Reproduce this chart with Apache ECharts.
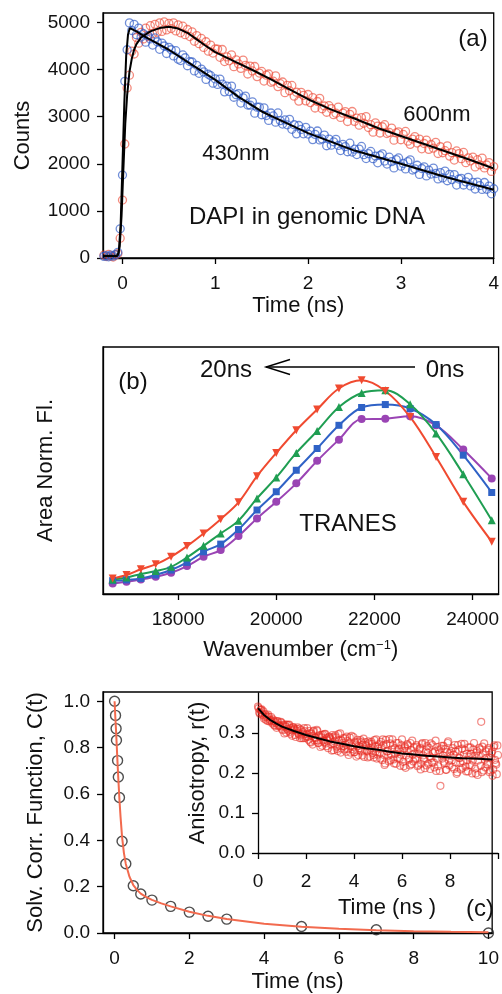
<!DOCTYPE html>
<html>
<head>
<meta charset="utf-8">
<script src="https://cdn.jsdelivr.net/npm/echarts/dist/echarts.min.js"></script>
<style>
  html, body { margin: 0; padding: 0; background: #fff; }
  #main { width: 502px; height: 994px; }
</style>
</head>
<body>
<div id="main"></div>
<script>
// (a) DAPI decays, channel width 25 ps starting at -0.2 ns
const chanStartA = -0.2;
const chanWidthA = 0.025;
const blue430 = [
  35, 50, 25, 60, 40, 70, 120, 620, 1760, 3750,
  4420, 4990, 4830, 4960, 4740, 4880, 4690, 4760, 4580, 4720,
  4650, 4520, 4670, 4590, 4430, 4560, 4500, 4340, 4470, 4420,
  4290, 4400, 4220, 4190, 4310, 4250, 4080, 4170, 4160, 3970,
  4090, 3920, 4010, 3950, 3790, 3900, 3870, 3710, 3800,
  3684, 3798, 3692, 3526, 3650, 3534, 3648, 3412, 3466, 3490,
  3289, 3398, 3437, 3246, 3245, 3314, 3073, 3202, 3201, 3040,
  3187, 3024, 2921, 3078, 3015, 2882, 3079, 2916, 2843, 2930,
  2827, 2944, 2731, 2828, 2635, 2812, 2729, 2636, 2773, 2630,
  2691, 2513, 2624, 2696, 2507, 2529, 2610, 2382, 2523, 2395, 2466,
  2518, 2389, 2281, 2412, 2364, 2255, 2437, 2248, 2310,
  2196, 2312, 2368, 2194, 2110, 2216, 2262, 2108, 2164, 2020,
  2176, 2212, 2058, 1994, 2140, 2046, 1912, 2088, 2124, 1950,
  2006, 1891, 2047, 2082, 1868, 1893, 1969, 1774, 1900, 1935,
  1741, 1866, 1782, 1907, 1793, 1678, 1814, 1699, 1845, 1640,
  1777, 1664, 1771, 1548, 1675, 1692, 1549, 1616, 1713, 1530,
  1607, 1464, 1611, 1538, 1455, 1602, 1459, 1526, 1363, 1470
];
const red600 = [
  60, 30, 75, 40, 20, 65, 90, 420, 1230, 2420,
  3610, 3880, 4390, 4330, 4680, 4560, 4790, 4650, 4880, 4700,
  4930, 4760, 4960, 4790, 4990, 4810, 5010, 4840, 4980, 4870,
  4990, 4820, 4950, 4780, 4920, 4740, 4850, 4700, 4800, 4600,
  4720, 4550, 4660, 4470, 4590, 4390, 4520, 4350, 4440,
  4435, 4260, 4425, 4170, 4268, 4185, 4313, 4060, 4205, 4120,
  4025, 4200, 4088, 3905, 4073, 3970, 4065, 3850, 3925, 3960,
  3755, 3880, 3905, 3730, 3753, 3865, 3638, 3700, 3735, 3510,
  3665, 3550, 3663, 3435, 3518, 3330, 3515, 3450, 3335, 3470,
  3298, 3406, 3184, 3322, 3390, 3168, 3226, 3094, 3232, 3170, 3041,
  3072, 3203, 2984, 3075, 3106, 2897, 3048, 3109, 2900,
  2970, 2820, 2980, 2860, 3000, 2770, 2830, 2670, 2870, 2800,
  2653, 2786, 2829, 2642, 2665, 2758, 2501, 2654, 2677, 2510,
  2623, 2686, 2479, 2412, 2525, 2578, 2441, 2524, 2317, 2430,
  2503, 2306, 2409, 2332, 2455, 2218, 2361, 2234, 2277, 2380,
  2163, 2236, 2079, 2272, 2215, 2108, 2241, 2024, 2127, 2060,
  2142, 1934, 2086, 1978, 2120, 1912, 1974, 2026, 1838, 1940
];
// fitted curves [time ns, counts]
const fit430 = [
  [-0.21, 40], [-0.06, 40], [-0.04, 120], [-0.02, 700], [0, 2000], [0.02, 3300],
  [0.04, 4300], [0.06, 4750], [0.08, 4880], [0.1, 4880], [0.15, 4810], [0.25, 4690],
  [0.35, 4580], [0.5, 4420], [0.75, 4100], [1, 3780], [1.25, 3420], [1.5, 3110],
  [1.75, 2880], [2, 2650], [2.5, 2280], [3, 2000], [3.5, 1710], [4, 1450]
];
const fit600 = [
  [-0.21, 50], [-0.05, 55], [-0.03, 250], [-0.01, 900], [0.01, 1900], [0.03, 2850],
  [0.05, 3450], [0.075, 3950], [0.1, 4230], [0.125, 4420], [0.15, 4540], [0.2, 4680],
  [0.3, 4810], [0.4, 4880], [0.5, 4910], [0.6, 4870], [0.7, 4780], [0.8, 4640],
  [0.9, 4500], [1, 4370], [1.2, 4180], [1.4, 3990], [1.6, 3790], [1.8, 3580],
  [2, 3370], [2.25, 3150], [2.5, 2960], [2.75, 2760], [3, 2590], [3.25, 2420],
  [3.5, 2250], [3.75, 2080], [4, 1900]
];

// (b) TRANES, wavenumbers of 600..410 nm
const wavenumbers = [
  16667, 16949, 17241, 17544, 17857, 18182, 18519, 18868, 19231, 19608,
  20000, 20408, 20833, 21277, 21739, 22222, 22727, 23256, 23810, 24390
];
const tranesRed = [
  0.063, 0.077, 0.100, 0.120, 0.151, 0.194, 0.245, 0.303, 0.371, 0.477,
  0.571, 0.663, 0.747, 0.832, 0.865, 0.822, 0.717, 0.555, 0.373, 0.212
];
const tranesGreen = [
  0.059, 0.067, 0.081, 0.093, 0.110, 0.148, 0.195, 0.245, 0.297, 0.387,
  0.472, 0.571, 0.660, 0.757, 0.814, 0.825, 0.768, 0.650, 0.485, 0.299
];
const tranesBlue = [
  0.054, 0.057, 0.063, 0.077, 0.097, 0.128, 0.171, 0.202, 0.261, 0.340,
  0.414, 0.501, 0.589, 0.683, 0.755, 0.767, 0.751, 0.686, 0.562, 0.411
];
const tranesPurple = [
  0.043, 0.050, 0.059, 0.070, 0.086, 0.113, 0.151, 0.178, 0.235, 0.306,
  0.373, 0.448, 0.539, 0.625, 0.708, 0.710, 0.720, 0.683, 0.585, 0.468
];

// (c) solvation correlation function
const ctTime = [0, 0.025, 0.04, 0.05, 0.08, 0.1, 0.13, 0.2, 0.3, 0.5, 0.7, 1, 1.5, 2, 2.5, 3, 5, 7, 10];
const ctValue = [1.0, 0.939, 0.882, 0.832, 0.744, 0.673, 0.585, 0.396, 0.299, 0.204, 0.168, 0.142, 0.115, 0.090, 0.072, 0.060, 0.028, 0.014, 0.0];
const ctFit = [
  [0, 1.0], [0.02, 0.93], [0.04, 0.87], [0.06, 0.8], [0.08, 0.73], [0.1, 0.665],
  [0.13, 0.575], [0.16, 0.5], [0.2, 0.415], [0.25, 0.345], [0.3, 0.298], [0.4, 0.242],
  [0.5, 0.207], [0.6, 0.186], [0.7, 0.17], [0.85, 0.155], [1, 0.143], [1.25, 0.128],
  [1.5, 0.115], [2, 0.092], [2.5, 0.074], [3, 0.06], [4, 0.04], [5, 0.027],
  [6, 0.018], [7, 0.012], [8, 0.008], [9, 0.005], [10, 0.003]
];

// inset: anisotropy, two interleaved channel sets of 50 ps
const chanWidthR = 0.05;
const anisotropy = [
  0.366, 0.352, 0.357, 0.359, 0.345, 0.336, 0.347, 0.340, 0.330, 0.341,
  0.331, 0.340, 0.324, 0.330, 0.318, 0.325, 0.329, 0.317, 0.318, 0.328,
  0.310, 0.321, 0.299, 0.316, 0.321, 0.306, 0.321, 0.298, 0.307, 0.314,
  0.311, 0.295, 0.306, 0.314, 0.297, 0.287, 0.307, 0.298, 0.287, 0.305,
  0.292, 0.312, 0.283, 0.299, 0.276, 0.293, 0.304, 0.281, 0.287, 0.308,
  0.275, 0.294, 0.265, 0.289, 0.296, 0.277, 0.298, 0.267, 0.281, 0.290,
  0.287, 0.271, 0.295, 0.257, 0.279, 0.289, 0.260, 0.297, 0.269, 0.251,
  0.281, 0.287, 0.259, 0.271, 0.291, 0.260, 0.274, 0.251, 0.293, 0.265,
  0.252, 0.276, 0.241, 0.283, 0.268, 0.257, 0.277, 0.244, 0.286, 0.258,
  0.270, 0.254, 0.279, 0.241, 0.263, 0.273, 0.245, 0.282, 0.254, 0.236,
  0.266, 0.272, 0.236, 0.264, 0.284, 0.245, 0.224, 0.272, 0.254, 0.229,
  0.274, 0.246, 0.284, 0.234, 0.262, 0.223, 0.254, 0.275, 0.236, 0.246,
  0.284, 0.228, 0.262, 0.213, 0.255, 0.269, 0.237, 0.275, 0.222, 0.246,
  0.264, 0.235, 0.270, 0.217, 0.248, 0.262, 0.223, 0.275, 0.237, 0.212,
  0.254, 0.267, 0.223, 0.242, 0.274, 0.226, 0.250, 0.214, 0.281, 0.237,
  0.217, 0.257, 0.168, 0.268, 0.244, 0.228, 0.260, 0.208, 0.275, 0.231,
  0.251, 0.255, 0.215, 0.246, 0.270, 0.226, 0.202, 0.258, 0.237, 0.209,
  0.261, 0.229, 0.273, 0.216, 0.248, 0.204, 0.240, 0.264, 0.219, 0.231,
  0.275, 0.211, 0.251, 0.195, 0.243, 0.259, 0.328, 0.266, 0.206, 0.234,
  0.254, 0.222, 0.262, 0.202, 0.238, 0.254, 0.209, 0.269, 0.225, 0.197,
  0.245
];
const anisotropyB = [
  0.362, 0.348, 0.358, 0.349, 0.354, 0.340, 0.333, 0.342, 0.346, 0.329,
  0.333, 0.328, 0.334, 0.320, 0.329, 0.313, 0.330, 0.320, 0.316, 0.326,
  0.307, 0.318, 0.321, 0.301, 0.310, 0.320, 0.303, 0.312, 0.293, 0.315,
  0.308, 0.290, 0.310, 0.300, 0.311, 0.294, 0.287, 0.302, 0.312, 0.288,
  0.297, 0.290, 0.305, 0.278, 0.299, 0.271, 0.306, 0.289, 0.282, 0.305,
  0.275, 0.290, 0.295, 0.268, 0.281, 0.297, 0.274, 0.287, 0.262, 0.291,
  0.284, 0.256, 0.290, 0.274, 0.294, 0.266, 0.255, 0.282, 0.299, 0.261,
  0.275, 0.267, 0.287, 0.253, 0.280, 0.245, 0.289, 0.269, 0.260, 0.290,
  0.252, 0.271, 0.278, 0.245, 0.262, 0.282, 0.254, 0.271, 0.240, 0.277,
  0.267, 0.239, 0.274, 0.258, 0.278, 0.250, 0.239, 0.267, 0.284, 0.246,
  0.261, 0.250, 0.278, 0.232, 0.270, 0.220, 0.283, 0.254, 0.243, 0.285,
  0.232, 0.259, 0.270, 0.224, 0.248, 0.275, 0.236, 0.261, 0.218, 0.270,
  0.256, 0.217, 0.266, 0.244, 0.272, 0.233, 0.219, 0.257, 0.281, 0.229,
  0.249, 0.238, 0.266, 0.220, 0.259, 0.209, 0.272, 0.244, 0.233, 0.275,
  0.219, 0.251, 0.263, 0.210, 0.238, 0.270, 0.226, 0.254, 0.205, 0.265,
  0.249, 0.205, 0.261, 0.236, 0.268, 0.224, 0.208, 0.252, 0.279, 0.219,
  0.243, 0.231, 0.262, 0.210, 0.254, 0.198, 0.270, 0.238, 0.225, 0.273,
  0.213, 0.245, 0.257, 0.204, 0.232, 0.264, 0.220, 0.248, 0.199, 0.259,
  0.243, 0.199, 0.255, 0.231, 0.263, 0.218, 0.202, 0.246, 0.274, 0.214,
  0.238, 0.226, 0.258, 0.206, 0.250, 0.193, 0.265, 0.233, 0.221, 0.269
];
const anisoFit = [
  [0, 0.362], [0.25, 0.345], [0.5, 0.333], [0.75, 0.324], [1, 0.316], [1.5, 0.305],
  [2, 0.295], [2.5, 0.287], [3, 0.279], [3.5, 0.273], [4, 0.267], [4.5, 0.262],
  [5, 0.258], [5.5, 0.253], [6, 0.249], [6.5, 0.246], [7, 0.243], [7.5, 0.241],
  [8, 0.239], [8.5, 0.237], [9, 0.236], [9.75, 0.234]
];

const FONT = "'Liberation Sans', Arial, sans-serif";
const INK = "#111";

function channels(values, start, width) {
  return values.map((v, i) => [+(start + i * width).toFixed(3), v]);
}
function zip(xs, ys) {
  return xs.map((x, i) => [x, ys[i]]);
}

function xAxisOf(grid, min, max, ticks, labels, name, gap, margin) {
  return {
    gridIndex: grid, type: "value", min: min, max: max,
    name: name, nameLocation: "middle", nameGap: gap,
    nameTextStyle: { fontSize: 22, color: INK, fontFamily: FONT },
    axisLine: { show: true, onZero: false, lineStyle: { color: "#000", width: 1.3 } },
    axisTick: { show: true, inside: false, length: 6, customValues: ticks, lineStyle: { color: "#000", width: 1.3 } },
    axisLabel: { customValues: labels, margin: margin, fontSize: 19, color: INK, fontFamily: FONT, formatter: v => String(v) },
    splitLine: { show: false }
  };
}
function yAxisOf(grid, min, max, ticks, name, gap, fmt) {
  return {
    gridIndex: grid, type: "value", min: min, max: max,
    name: name, nameLocation: "middle", nameGap: gap,
    nameTextStyle: { fontSize: 22, color: INK, fontFamily: FONT },
    axisLine: { show: true, onZero: false, lineStyle: { color: "#000", width: 1.3 } },
    axisTick: { show: !!ticks, inside: false, length: 6, customValues: ticks || [], lineStyle: { color: "#000", width: 1.3 } },
    axisLabel: { show: !!ticks, customValues: ticks || [], margin: 13, fontSize: 19, color: INK, fontFamily: FONT, formatter: fmt },
    splitLine: { show: false }
  };
}

function openCircles(name, data, xi, yi, color, size, width) {
  return {
    name: name, type: "scatter", xAxisIndex: xi, yAxisIndex: yi, data: data,
    symbol: "circle", symbolSize: size,
    itemStyle: { color: "rgba(0,0,0,0)", borderColor: color, borderWidth: width },
    silent: true
  };
}
function fitLine(name, data, xi, yi, color) {
  return {
    name: name, type: "line", xAxisIndex: xi, yAxisIndex: yi, data: data,
    showSymbol: false, smooth: false, lineStyle: { color: color, width: 2 }, silent: true
  };
}
function tranes(name, values, color, symbol, rotate, size) {
  return {
    name: name, type: "line", xAxisIndex: 1, yAxisIndex: 1,
    data: zip(wavenumbers, values), smooth: 0.35,
    symbol: symbol, symbolRotate: rotate, symbolSize: size, showSymbol: true,
    itemStyle: { color: color }, lineStyle: { color: color, width: 2 }, silent: true
  };
}

function label(text, x, y, size) {
  return {
    type: "text", x: x, y: y, silent: true,
    style: { text: text, fill: INK, font: size + "px " + FONT,
             textAlign: "center", textVerticalAlign: "middle", align: "center", verticalAlign: "middle" }
  };
}

const chart = echarts.init(document.getElementById("main"), null, { renderer: "canvas" });
const insetX = xAxisOf(3, 0, 10, [0, 2, 4, 6, 8, 10], [0, 2, 4, 6, 8], "Time (ns )", 44, 19);
insetX.nameTextStyle.padding = [0, 0, 0, 18];
chart.setOption({
  animation: false,
  backgroundColor: "#fff",
  textStyle: { fontFamily: FONT },
  grid: [
    { left: 103, top: 13, width: 396, height: 245, show: true, borderColor: "#000", borderWidth: 1.3 },
    { left: 103, top: 347, width: 397, height: 247, show: true, borderColor: "#000", borderWidth: 1.3 },
    { left: 103, top: 692, width: 396, height: 244, show: true, borderColor: "#000", borderWidth: 1.3 },
    { left: 258, top: 693, width: 240, height: 160, show: false }
  ],
  xAxis: [
    xAxisOf(0, -0.21, 4, [0, 1, 2, 3, 4], [0, 1, 2, 3, 4], "Time (ns)", 37, 16),
    xAxisOf(1, 16470, 24530, [18000, 20000, 22000, 24000], [18000, 20000, 22000, 24000],
      "Wavenumber (cm{sup|\u22121})", 45, 16),
    xAxisOf(2, -0.31, 10.1, [0, 2, 4, 6, 8, 10], [0, 2, 4, 6, 8, 10], "Time (ns)", 38, 16),
    insetX
  ],
  yAxis: [
    yAxisOf(0, 0, 5200, [0, 1000, 2000, 3000, 4000, 5000], "Counts", 69, v => String(v)),
    yAxisOf(1, 0, 1, null, "Area Norm. Fl.", 46, null),
    yAxisOf(2, 0, 1.04, [0, 0.2, 0.4, 0.6, 0.8, 1.0], "Solv. Corr. Function, C(t)", 56, v => v.toFixed(1)),
    yAxisOf(3, 0, 0.4, [0, 0.1, 0.2, 0.3], "Anisotropy, r(t)", 49, v => v.toFixed(1))
  ],
  series: [
    openCircles("600nm", channels(red600, chanStartA, chanWidthA), 0, 0, "rgba(236,72,52,0.8)", 8, 1.3),
    openCircles("430nm", channels(blue430, chanStartA, chanWidthA), 0, 0, "rgba(45,90,198,0.85)", 8, 1.3),
    fitLine("fit 600nm", fit600, 0, 0, "#000"),
    fitLine("fit 430nm", fit430, 0, 0, "#000"),

    tranes("purple", tranesPurple, "#9a44b4", "circle", 0, 8),
    tranes("blue", tranesBlue, "#2f62c6", "rect", 0, 7),
    tranes("green", tranesGreen, "#1f9e52", "triangle", 0, 8),
    tranes("red", tranesRed, "#f04a30", "triangle", 180, 8),

    fitLine("C(t) fit", ctFit, 2, 2, "#f26a4e"),
    openCircles("C(t)", zip(ctTime, ctValue), 2, 2, "#222", 10, 1.4),

    openCircles("r(t)", channels(anisotropy, 0, chanWidthR), 3, 3, "rgba(232,45,35,0.7)", 7, 1.2),
    openCircles("r(t) b", channels(anisotropyB, chanWidthR / 2, chanWidthR), 3, 3, "rgba(232,45,35,0.7)", 7, 1.2),
    fitLine("r(t) fit", anisoFit, 3, 3, "#000")
  ],
  graphic: [
    label("(a)", 473, 39, 24),
    label("600nm", 437, 115, 22),
    label("430nm", 236, 154, 22),
    label("DAPI in genomic DNA", 307, 217, 24),
    label("(b)", 133, 382, 24),
    label("20ns", 226, 370, 24),
    label("0ns", 445, 370, 24),
    label("TRANES", 348, 524, 24),
    label("(c)", 480, 909, 24),
    { type: "polyline", silent: true, shape: { points: [[415, 367], [266, 367]] },
      style: { stroke: "#000", lineWidth: 1.4, fill: null } },
    { type: "polyline", silent: true, shape: { points: [[290, 359.5], [266, 367], [290, 374.5]] },
      style: { stroke: "#000", lineWidth: 1.4, fill: null } }
  ]
});
// rich superscript for the wavenumber unit
chart.setOption({
  xAxis: [{}, { nameTextStyle: { rich: { sup: { fontSize: 13, verticalAlign: "top", color: INK, fontFamily: FONT } } } }]
});
</script>
</body>
</html>
